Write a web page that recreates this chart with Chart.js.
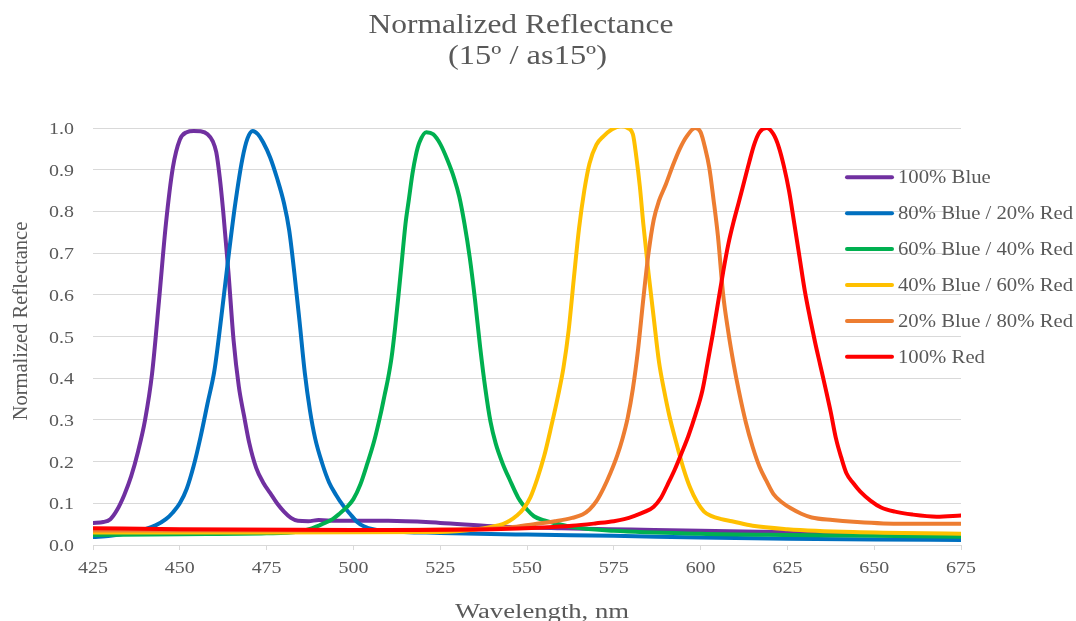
<!DOCTYPE html>
<html>
<head>
<meta charset="utf-8">
<script src="https://cdn.jsdelivr.net/npm/chart.js@4.4.1/dist/chart.umd.min.js"></script>
<style>
html,body{margin:0;padding:0;background:#fff;}
#wrap{width:1076px;height:621px;position:relative;}
</style>
</head>
<body>
<div id="wrap"><canvas id="c" width="1076" height="621"></canvas></div>
<script>
// ---- Data ----
const seriesNames = ["100% Blue","80% Blue / 20% Red","60% Blue / 40% Red","40% Blue / 60% Red","20% Blue / 80% Red","100% Red"];
const seriesColors = ["#7030A0","#0070C0","#00B050","#FFC000","#ED7D31","#FF0000"];
const xTickLabels = [425,450,475,500,525,550,575,600,625,650,675];
const yTickLabels = [0.0,0.1,0.2,0.3,0.4,0.5,0.6,0.7,0.8,0.9,1.0];

const blue100Wl  = [425,428,430,432,434,436,438,440,442,444,446,448,450,452,454,456,458,459.5,460.5,461.5,462.5,464,465.5,467,468.5,470,472,474,476,478,480,482,484,487,490,495,510,525,540,560,580,600,625,650,675];
const blue100Val = [0.053,0.055,0.062,0.085,0.12,0.165,0.225,0.30,0.41,0.585,0.77,0.905,0.972,0.99,0.993,0.992,0.985,0.968,0.942,0.882,0.80,0.655,0.49,0.38,0.31,0.245,0.185,0.15,0.125,0.10,0.08,0.065,0.058,0.057,0.06,0.058,0.058,0.053,0.045,0.04,0.037,0.034,0.031,0.028,0.025];

const blue80Wl  = [425,430,435,440,443,446,448,450,452,454,456,458,460,462,464,466,468,469.5,471,472.5,474,476,478,480,481.5,483,484.5,486,487.5,489,491,493,495,497,499,501,503,506,510,525,550,575,600,625,650,675];
const blue80Val = [0.019,0.022,0.028,0.038,0.047,0.062,0.078,0.10,0.135,0.19,0.26,0.34,0.42,0.55,0.69,0.82,0.925,0.975,0.993,0.985,0.966,0.93,0.88,0.82,0.755,0.652,0.535,0.413,0.322,0.255,0.196,0.15,0.12,0.095,0.075,0.056,0.045,0.037,0.033,0.029,0.025,0.022,0.018,0.015,0.013,0.012];

const blue60Wl  = [425,450,475,484,488,491,494,496,498,500,502,504,506,508,509,510,511,512,513,514,515,516,517,518,519,521,523,525,527,529,530.5,532,533.5,535,536.5,538,539.5,541,543,545,547.5,550,552,555,558,563,575,600,625,650,675];
const blue60Val = [0.024,0.026,0.028,0.032,0.04,0.05,0.062,0.075,0.09,0.11,0.145,0.195,0.25,0.32,0.36,0.40,0.45,0.52,0.60,0.685,0.77,0.83,0.89,0.935,0.965,0.99,0.985,0.962,0.925,0.88,0.835,0.77,0.69,0.59,0.475,0.375,0.295,0.243,0.195,0.157,0.113,0.085,0.069,0.059,0.052,0.043,0.034,0.027,0.024,0.022,0.02];

const blue40Wl  = [425,475,525,535,540,543,545,547,549,551,553,555,557,559,560.5,562,563.5,565,566.5,568,570,572,574.5,577,579,580.5,581.5,582.5,583.5,585,586.5,588,589.5,591,593,595,597,599,601,603,606,609,615,625,644,675];
const blue40Val = [0.03,0.03,0.031,0.037,0.044,0.05,0.058,0.07,0.087,0.115,0.16,0.215,0.285,0.36,0.425,0.515,0.64,0.76,0.85,0.915,0.96,0.98,0.997,1.004,1.0,0.985,0.93,0.86,0.77,0.652,0.545,0.44,0.37,0.31,0.245,0.185,0.137,0.103,0.08,0.07,0.062,0.057,0.046,0.038,0.031,0.027];

const blue20Wl  = [425,475,525,545,552,558,563,566,568,570,572,574,576,577.5,579,580.5,582,583.5,585,586.5,588,590,592,594,596,598.4,600,601.3,602.5,603.7,605,606.5,608,609.5,611,613,615,617,619,621,623.5,626,629,632,638,644,658,675];
const blue20Val = [0.035,0.035,0.037,0.042,0.05,0.057,0.065,0.073,0.085,0.105,0.135,0.172,0.215,0.255,0.305,0.375,0.47,0.59,0.70,0.78,0.825,0.865,0.91,0.95,0.98,1.0,0.99,0.952,0.905,0.83,0.74,0.60,0.51,0.435,0.37,0.295,0.235,0.187,0.153,0.122,0.102,0.088,0.075,0.066,0.06,0.056,0.051,0.051];

const red100Wl  = [425,450,500,540,555,563,570,575,578,581,584,586.5,588.5,590.5,592.5,594.5,596.5,598.5,600.5,602,603.5,605,606.5,608,609.5,611,612.5,614,615.5,617,619,621,622.5,624,625.5,627,628.5,630,631.5,633,634.5,636,637.5,639,640.5,642,644,646,649,652,656,661,668,675];
const red100Val = [0.04,0.038,0.036,0.038,0.042,0.046,0.052,0.057,0.062,0.07,0.08,0.092,0.112,0.145,0.18,0.22,0.262,0.312,0.37,0.436,0.505,0.58,0.655,0.722,0.775,0.822,0.87,0.918,0.962,0.99,1.0,0.985,0.955,0.908,0.848,0.77,0.69,0.61,0.545,0.485,0.43,0.375,0.318,0.255,0.21,0.172,0.148,0.128,0.106,0.09,0.08,0.073,0.068,0.071];

const seriesWl  = [blue100Wl, blue80Wl, blue60Wl, blue40Wl, blue20Wl, red100Wl];
const seriesVal = [blue100Val, blue80Val, blue60Val, blue40Val, blue20Val, red100Val];

// ---- Build datasets ----
const datasets = seriesNames.map((name,i)=>({
  label: name,
  data: seriesWl[i].map((w,k)=>({x:w, y:seriesVal[i][k]})),
  borderColor: seriesColors[i],
  backgroundColor: seriesColors[i],
  borderWidth: 4,
  pointRadius: 0,
  fill: false,
  cubicInterpolationMode: 'monotone',
  borderCapStyle: 'round',
  borderJoinStyle: 'round',
  order: seriesNames.length - i
}));

const FONT = '"Liberation Serif","Times New Roman",serif';
const TXT = '#595959';

function drawText(ctx, s, x, y, size, align, baseline, sx, rot){
  ctx.save();
  ctx.translate(x,y);
  if(rot){ ctx.rotate(rot); ctx.scale(1, sx); } else { ctx.scale(sx,1); }
  ctx.font = size + 'px ' + FONT;
  ctx.fillStyle = TXT;
  ctx.textAlign = align;
  ctx.textBaseline = baseline;
  ctx.fillText(s,0,0);
  ctx.restore();
}
function fitScale(ctx, s, size, target){
  ctx.save(); ctx.font = size + 'px ' + FONT;
  const w = ctx.measureText(s).width; ctx.restore();
  return target / w;
}

const textPlugin = {
  id: 'textPlugin',
  afterDraw(chart){
    const ctx = chart.ctx;
    const xs = chart.scales.x, ys = chart.scales.y;
    // Title
    const t1 = 'Normalized Reflectance', t2 = '(15º / as15º)';
    drawText(ctx, t1, 521, 33, 27.5, 'center', 'alphabetic', fitScale(ctx,t1,27.5,305));
    drawText(ctx, t2, 527.5, 64, 27.5, 'center', 'alphabetic', fitScale(ctx,t2,27.5,159));
    // Y tick labels
    yTickLabels.forEach(v=>{
      drawText(ctx, v.toFixed(1), 74, ys.getPixelForValue(v)+1.5, 17.5, 'right', 'middle', 1.14);
    });
    // X tick labels
    xTickLabels.forEach(v=>{
      drawText(ctx, String(v), xs.getPixelForValue(v), 573, 17.5, 'center', 'alphabetic', 1.14);
    });
    // Axis titles
    const xt = 'Wavelength, nm';
    drawText(ctx, xt, 542, 618, 20, 'center', 'alphabetic', fitScale(ctx,xt,20,174));
    const yt = 'Normalized Reflectance';
    drawText(ctx, yt, 27, 321, 20.5, 'center', 'alphabetic', 1.0, -Math.PI/2);
    // Legend
    const ly0 = 177.3, ldy = 35.9;
    seriesNames.forEach((n,i)=>{
      const y = ly0 + i*ldy;
      ctx.save();
      ctx.strokeStyle = seriesColors[i];
      ctx.lineWidth = 4;
      ctx.lineCap = 'round';
      ctx.beginPath(); ctx.moveTo(847,y); ctx.lineTo(892,y); ctx.stroke();
      ctx.restore();
      drawText(ctx, n, 898, y+1, 18.2, 'left', 'middle', 1.14);
    });
  }
};

new Chart(document.getElementById('c'), {
  type: 'line',
  data: { datasets },
  options: {
    responsive: false,
    animation: false,
    events: [],
    layout: { padding: { left: 93, right: 115, top: 128, bottom: 76 } },
    plugins: { legend: { display: false }, title: { display: false }, tooltip: { enabled: false } },
    scales: {
      x: {
        type: 'linear', min: 425, max: 675,
        ticks: { display: false, stepSize: 25 },
        grid: { drawOnChartArea: false, drawTicks: true, tickLength: 5, color: '#d9d9d9', lineWidth: 1 },
        border: { display: true, color: '#d9d9d9', width: 1 },
        afterFit(s){ s.height = 0; }
      },
      y: {
        min: 0, max: 1,
        ticks: { display: false, stepSize: 0.1 },
        grid: { drawTicks: false, color: '#d9d9d9', lineWidth: 1 },
        border: { display: false },
        afterFit(s){ s.width = 0; }
      }
    }
  },
  plugins: [textPlugin]
});
</script>
</body>
</html>
